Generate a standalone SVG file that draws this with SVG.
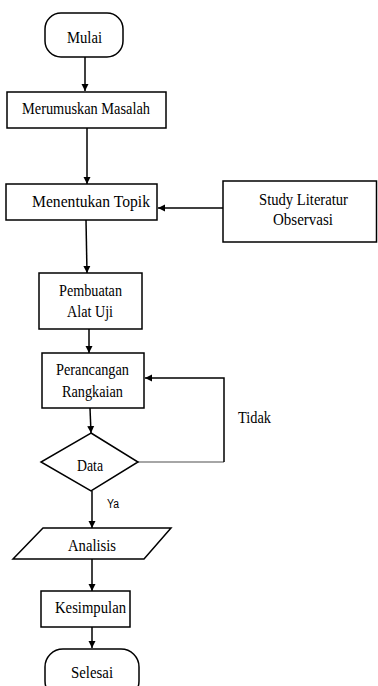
<svg xmlns="http://www.w3.org/2000/svg" width="378" height="686" viewBox="0 0 378 686">
<defs>
<marker id="ah" viewBox="0 0 10 10" refX="10" refY="5" markerWidth="7" markerHeight="8" markerUnits="userSpaceOnUse" orient="auto"><path d="M0,0 L10,5 L0,10 z" fill="#000"/></marker>
<style>
.s{fill:#fff;stroke:#000;stroke-width:1.5}
.t{font-family:"Liberation Serif","Times New Roman",serif;font-size:17px;fill:#000;text-anchor:middle}
.c{fill:none;stroke:#000;stroke-width:1.5}
</style>
</defs>
<rect width="378" height="686" fill="#fff"/>
<g id="connectors">
<line class="c" x1="85" y1="57" x2="85" y2="91" marker-end="url(#ah)"/>
<line class="c" x1="87" y1="128" x2="87" y2="184" marker-end="url(#ah)"/>
<line class="c" x1="223" y1="208" x2="158" y2="208" marker-end="url(#ah)"/>
<line class="c" x1="86" y1="220" x2="87" y2="273" marker-end="url(#ah)"/>
<line class="c" x1="89" y1="329" x2="89" y2="353" marker-end="url(#ah)"/>
<line class="c" x1="90" y1="408" x2="91" y2="433" marker-end="url(#ah)"/>
<path d="M138,462 H224" fill="none" stroke="#888" stroke-width="1.5"/>
<path class="c" d="M224,462 V378 H145" marker-end="url(#ah)"/>
<line class="c" x1="92" y1="491" x2="92" y2="528" marker-end="url(#ah)"/>
<line class="c" x1="92" y1="559" x2="92" y2="591" marker-end="url(#ah)"/>
<line class="c" x1="92" y1="627" x2="92" y2="648" marker-end="url(#ah)"/>
<text class="t" x="254.5" y="423" textLength="33" lengthAdjust="spacingAndGlyphs">Tidak</text>
<text x="113" y="508" font-family="'Liberation Sans Narrow','Liberation Sans',Arial,sans-serif" font-size="12.5" text-anchor="middle" textLength="12" lengthAdjust="spacingAndGlyphs">Ya</text>
</g>
<g id="mulai"><rect class="s" x="45" y="13" width="78" height="44" rx="16"/><text class="t" x="84.5" y="43" textLength="35" lengthAdjust="spacingAndGlyphs">Mulai</text></g>
<g id="merumuskan"><rect class="s" x="7" y="92" width="159" height="36"/><text class="t" x="86" y="114" textLength="128" lengthAdjust="spacingAndGlyphs">Merumuskan Masalah</text></g>
<g id="menentukan"><rect class="s" x="6" y="184" width="151" height="36"/><text class="t" x="91" y="207" textLength="118" lengthAdjust="spacingAndGlyphs">Menentukan Topik</text></g>
<g id="study"><rect class="s" x="223" y="181" width="153.5" height="61"/><text class="t" x="303.5" y="205" textLength="89" lengthAdjust="spacingAndGlyphs">Study Literatur</text><text class="t" x="303" y="225" textLength="60" lengthAdjust="spacingAndGlyphs">Observasi</text></g>
<g id="pembuatan"><rect class="s" x="39" y="273" width="103" height="56"/><text class="t" x="90.5" y="296" textLength="63" lengthAdjust="spacingAndGlyphs">Pembuatan</text><text class="t" x="90" y="317" textLength="46" lengthAdjust="spacingAndGlyphs">Alat Uji</text></g>
<g id="perancangan"><rect class="s" x="42" y="353" width="102" height="55"/><text class="t" x="92.5" y="375" textLength="73" lengthAdjust="spacingAndGlyphs">Perancangan</text><text class="t" x="92.5" y="396.5" textLength="61" lengthAdjust="spacingAndGlyphs">Rangkaian</text></g>
<g id="data"><polygon class="s" points="91,433 138,462 91,491 41,462"/><text class="t" x="90" y="471" textLength="26" lengthAdjust="spacingAndGlyphs">Data</text></g>
<g id="analisis"><polygon class="s" points="43,528 171,528 144,559 13,559"/><text class="t" x="92" y="550.5" textLength="48" lengthAdjust="spacingAndGlyphs">Analisis</text></g>
<g id="kesimpulan"><rect class="s" x="41" y="591" width="89" height="36"/><text class="t" x="90.5" y="613" textLength="71" lengthAdjust="spacingAndGlyphs">Kesimpulan</text></g>
<g id="selesai"><rect class="s" x="45" y="649" width="94" height="50" rx="18"/><text class="t" x="92" y="678" textLength="42" lengthAdjust="spacingAndGlyphs">Selesai</text></g>
</svg>
